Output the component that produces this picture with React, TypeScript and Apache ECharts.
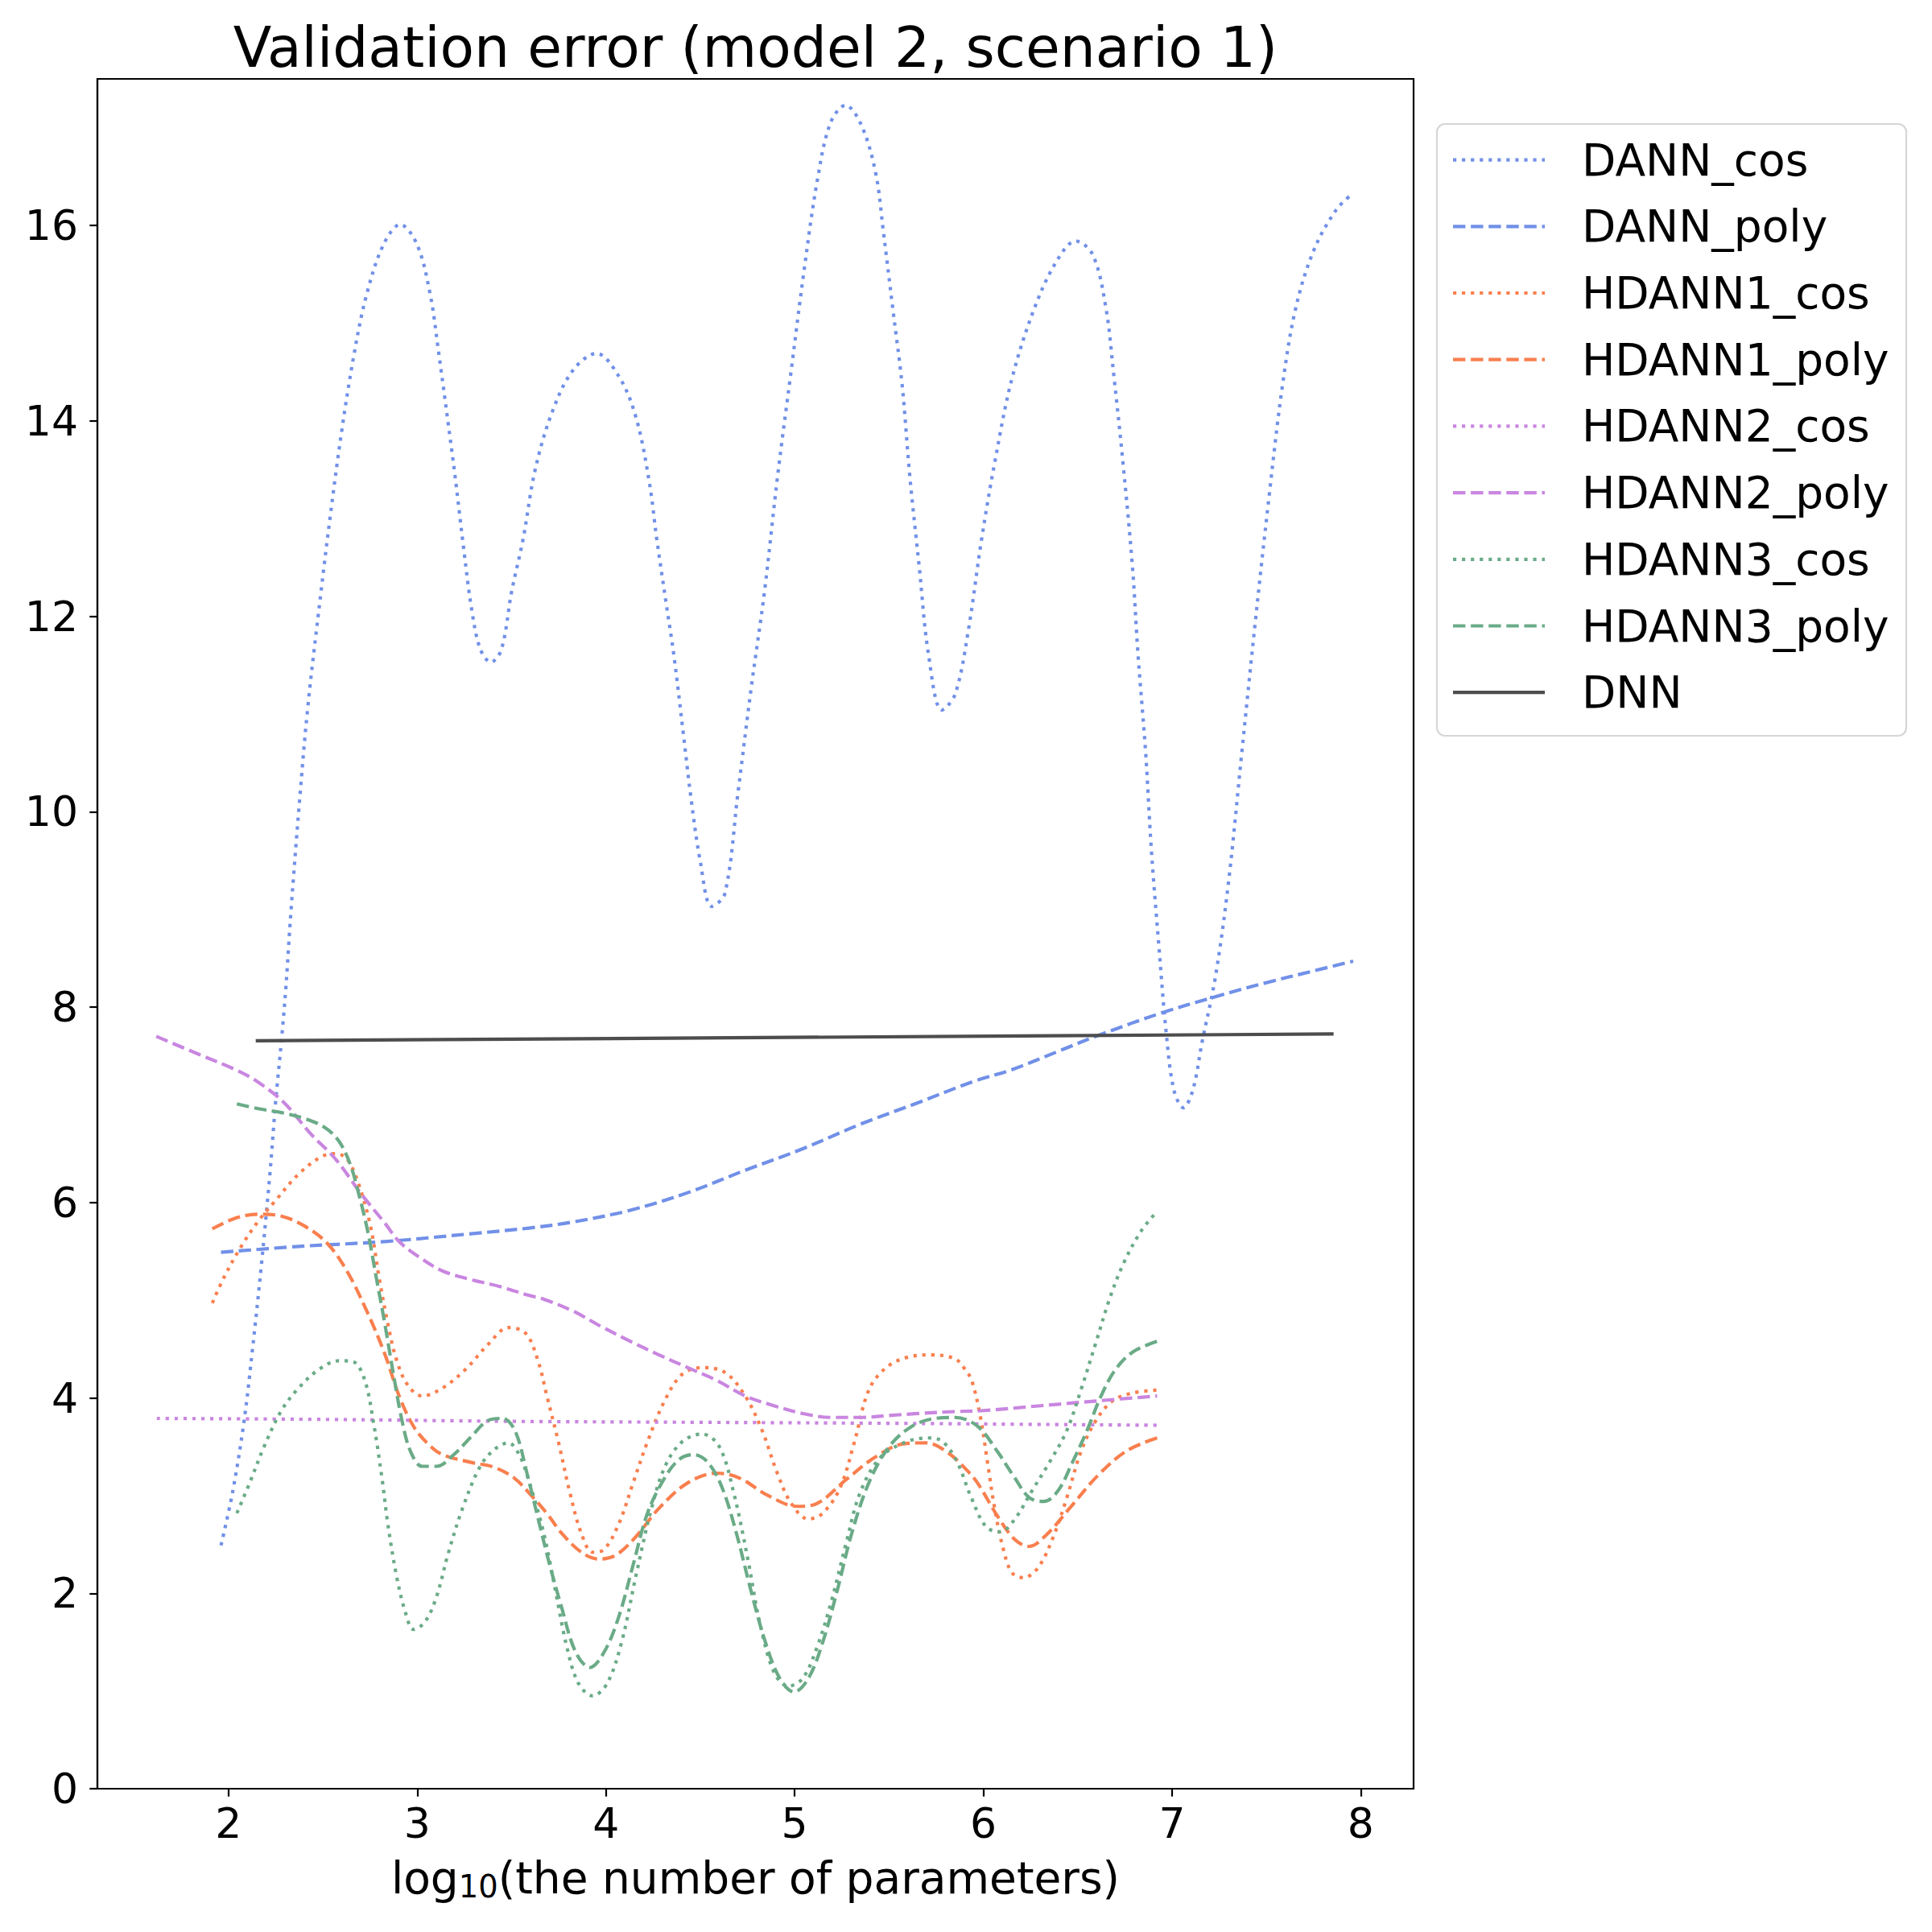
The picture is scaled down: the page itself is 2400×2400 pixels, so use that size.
import React, { useEffect, useRef } from "react";
import * as echarts from "echarts";

const X_TICKS = [2, 3, 4, 5, 6, 7, 8];
const Y_TICKS = [0, 2, 4, 6, 8, 10, 12, 14, 16];

const DANN_COS = [
  [1.96, 2.49], [2.021, 3.03], [2.082, 3.76], [2.127, 4.5], [2.173, 5.34], [2.219, 6.29], [2.249, 7.02],
  [2.28, 7.65], [2.303, 8.18], [2.33, 8.96], [2.375, 10.08], [2.42, 11.07], [2.49, 12.25], [2.54, 13.04],
  [2.6, 13.9], [2.665, 14.68], [2.73, 15.28], [2.82, 15.8], [2.91, 16.01], [3.0, 15.8], [3.07, 15.28],
  [3.11, 14.75], [3.16, 14.03], [3.2, 13.44], [3.245, 12.71], [3.29, 12.05], [3.335, 11.66], [3.39, 11.53],
  [3.446, 11.66], [3.5, 12.25], [3.56, 12.78], [3.625, 13.5], [3.715, 14.09], [3.826, 14.52], [3.95, 14.69],
  [4.07, 14.45], [4.16, 14.03], [4.23, 13.37], [4.27, 12.78], [4.32, 12.12], [4.36, 11.6], [4.41, 10.8],
  [4.45, 10.15], [4.5, 9.49], [4.56, 9.03], [4.63, 9.16], [4.7, 10.2], [4.77, 11.27], [4.84, 12.25],
  [4.91, 13.44], [4.98, 14.49], [5.05, 15.54], [5.12, 16.46], [5.19, 17.05], [5.27, 17.23], [5.355, 17.02],
  [5.43, 16.53], [5.47, 15.94], [5.52, 15.15], [5.57, 14.36], [5.61, 13.44], [5.66, 12.51], [5.71, 11.6],
  [5.78, 11.04], [5.85, 11.2], [5.92, 11.85], [5.99, 12.78], [6.06, 13.57], [6.15, 14.42], [6.27, 15.15],
  [6.39, 15.64], [6.49, 15.84], [6.58, 15.7], [6.65, 15.15], [6.69, 14.49], [6.74, 13.57], [6.79, 12.51],
  [6.82, 11.6], [6.86, 10.61], [6.89, 9.62], [6.93, 8.63], [6.97, 7.72], [7.01, 7.15], [7.06, 6.97],
  [7.11, 7.15], [7.16, 7.65], [7.23, 8.31], [7.3, 9.29], [7.37, 10.61], [7.44, 11.92], [7.515, 13.24],
  [7.585, 14.36], [7.655, 15.15], [7.75, 15.74], [7.87, 16.16], [7.96, 16.33],
];

const DANN_POLY = [
  [1.96, 5.49], [2.371, 5.55], [2.828, 5.6], [3.285, 5.68], [3.6, 5.74], [3.824, 5.8], [4.128, 5.92],
  [4.433, 6.1], [4.738, 6.33], [5.043, 6.55], [5.347, 6.8], [5.652, 7.02], [5.95, 7.24], [6.152, 7.36],
  [6.4, 7.55], [6.609, 7.71], [6.944, 7.94], [7.218, 8.1], [7.5, 8.25], [7.75, 8.37], [7.96, 8.47],
];

const HDANN1_COS = [
  [1.914, 4.97], [1.975, 5.23], [2.067, 5.55], [2.158, 5.81], [2.249, 6.02], [2.371, 6.29], [2.493, 6.47],
  [2.569, 6.5], [2.63, 6.44], [2.691, 6.18], [2.752, 5.76], [2.798, 5.23], [2.844, 4.76], [2.89, 4.39],
  [2.95, 4.13], [3.026, 4.02], [3.133, 4.1], [3.255, 4.29], [3.377, 4.55], [3.483, 4.72], [3.575, 4.66],
  [3.64, 4.38], [3.687, 4.02], [3.748, 3.55], [3.809, 3.03], [3.87, 2.61], [3.93, 2.42], [3.991, 2.45],
  [4.068, 2.71], [4.144, 3.13], [4.22, 3.55], [4.311, 3.97], [4.403, 4.24], [4.509, 4.31], [4.631, 4.26],
  [4.738, 4.02], [4.829, 3.66], [4.906, 3.24], [4.982, 2.92], [5.073, 2.76], [5.149, 2.82], [5.241, 3.08],
  [5.317, 3.55], [5.393, 4.08], [5.485, 4.31], [5.606, 4.42], [5.728, 4.44], [5.85, 4.4], [5.9, 4.3],
  [5.938, 4.18], [5.984, 3.81], [6.022, 3.34], [6.06, 2.87], [6.106, 2.45], [6.152, 2.21], [6.213, 2.16],
  [6.289, 2.26], [6.365, 2.55], [6.441, 2.97], [6.517, 3.45], [6.594, 3.76], [6.685, 3.97], [6.792, 4.05],
  [6.921, 4.08],
];

const HDANN1_POLY = [
  [1.914, 5.73], [2.036, 5.84], [2.158, 5.88], [2.28, 5.86], [2.402, 5.76], [2.524, 5.58], [2.63, 5.29],
  [2.737, 4.87], [2.828, 4.45], [2.904, 4.02], [2.98, 3.71], [3.057, 3.53], [3.133, 3.42], [3.285, 3.34],
  [3.407, 3.29], [3.514, 3.18], [3.605, 3.0], [3.694, 2.8], [3.763, 2.62], [3.87, 2.42], [3.961, 2.35],
  [4.052, 2.39], [4.159, 2.58], [4.281, 2.87], [4.433, 3.13], [4.586, 3.23], [4.707, 3.18], [4.86, 3.0],
  [5.013, 2.89], [5.119, 2.92], [5.271, 3.16], [5.424, 3.39], [5.576, 3.53], [5.698, 3.54], [5.805, 3.45],
  [5.908, 3.27], [5.969, 3.13], [6.075, 2.79], [6.167, 2.55], [6.243, 2.48], [6.335, 2.6], [6.457, 2.87],
  [6.609, 3.21], [6.761, 3.46], [6.921, 3.59],
];

const HDANN2_COS = [
  [1.62, 3.79], [2.5, 3.78], [3.5, 3.76], [4.5, 3.75], [5.5, 3.74], [6.2, 3.73], [6.93, 3.72],
];

const HDANN2_POLY = [
  [1.617, 7.7], [1.838, 7.52], [2.036, 7.36], [2.158, 7.23], [2.295, 7.02], [2.432, 6.71], [2.569, 6.44],
  [2.706, 6.08], [2.828, 5.79], [2.904, 5.6], [3.011, 5.44], [3.133, 5.3], [3.285, 5.21], [3.438, 5.14],
  [3.59, 5.05], [3.671, 5.01], [3.824, 4.89], [3.976, 4.73], [4.128, 4.58], [4.281, 4.44], [4.433, 4.31],
  [4.586, 4.18], [4.738, 4.02], [4.89, 3.92], [5.043, 3.84], [5.195, 3.8], [5.347, 3.8], [5.5, 3.82],
  [5.652, 3.84], [5.85, 3.86], [6.0, 3.87], [6.304, 3.92], [6.609, 3.97], [6.921, 4.02],
];

const HDANN3_COS = [
  [2.044, 2.82], [2.112, 3.13], [2.188, 3.5], [2.28, 3.87], [2.371, 4.1], [2.478, 4.29], [2.584, 4.38],
  [2.661, 4.37], [2.722, 4.18], [2.767, 3.76], [2.813, 3.18], [2.844, 2.71], [2.89, 2.18], [2.935, 1.82],
  [2.981, 1.63], [3.042, 1.71], [3.103, 1.97], [3.163, 2.4], [3.24, 2.87], [3.331, 3.29], [3.407, 3.47],
  [3.483, 3.54], [3.54, 3.42], [3.595, 3.13], [3.671, 2.61], [3.732, 2.03], [3.793, 1.45], [3.854, 1.08],
  [3.93, 0.95], [4.007, 1.08], [4.083, 1.5], [4.159, 2.18], [4.235, 2.82], [4.311, 3.29], [4.403, 3.55],
  [4.509, 3.63], [4.601, 3.5], [4.677, 3.03], [4.753, 2.34], [4.814, 1.71], [4.891, 1.19], [4.967, 1.05],
  [5.043, 1.13], [5.119, 1.45], [5.195, 1.92], [5.271, 2.5], [5.347, 3.03], [5.454, 3.39], [5.591, 3.55],
  [5.713, 3.59], [5.786, 3.55], [5.862, 3.34], [5.938, 2.97], [6.015, 2.68], [6.091, 2.63], [6.167, 2.76],
  [6.258, 3.05], [6.35, 3.34], [6.441, 3.66], [6.517, 4.08], [6.594, 4.55], [6.67, 5.02], [6.746, 5.39],
  [6.837, 5.71], [6.921, 5.91],
];

const HDANN3_POLY = [
  [2.044, 7.01], [2.158, 6.96], [2.28, 6.92], [2.402, 6.86], [2.508, 6.77], [2.584, 6.63], [2.645, 6.39],
  [2.691, 6.08], [2.737, 5.71], [2.783, 5.23], [2.828, 4.76], [2.874, 4.24], [2.92, 3.76], [2.965, 3.45],
  [3.026, 3.3], [3.103, 3.3], [3.194, 3.42], [3.285, 3.6], [3.377, 3.77], [3.453, 3.79], [3.519, 3.66],
  [3.58, 3.24], [3.641, 2.76], [3.702, 2.29], [3.763, 1.87], [3.839, 1.4], [3.915, 1.24], [3.991, 1.4],
  [4.068, 1.76], [4.144, 2.29], [4.22, 2.82], [4.311, 3.18], [4.388, 3.37], [4.464, 3.42], [4.54, 3.34],
  [4.616, 3.08], [4.692, 2.61], [4.768, 2.03], [4.845, 1.5], [4.921, 1.13], [4.997, 0.99], [5.073, 1.13],
  [5.149, 1.5], [5.226, 2.03], [5.302, 2.61], [5.393, 3.13], [5.5, 3.5], [5.622, 3.71], [5.744, 3.79],
  [5.85, 3.8], [5.969, 3.71], [6.075, 3.45], [6.167, 3.18], [6.243, 2.98], [6.32, 2.94], [6.396, 3.05],
  [6.472, 3.34], [6.548, 3.66], [6.624, 4.02], [6.7, 4.29], [6.792, 4.47], [6.921, 4.58],
];

const DNN = [[2.144, 7.655], [7.856, 7.725]];

const BLUE = "#7190e8";
const ORANGE = "#f97f4e";
const PURPLE = "#c986e0";
const GREEN = "#6aab87";
const GREY = "#4d4d4d";

const LW = 4.17;
const DOTTED = [4.17, 6.88];
const DASHED = [15.4, 6.7];

const SERIES_DEFS = [
  { name: "DANN_cos", data: DANN_COS, color: BLUE, dash: DOTTED },
  { name: "DANN_poly", data: DANN_POLY, color: BLUE, dash: DASHED },
  { name: "HDANN1_cos", data: HDANN1_COS, color: ORANGE, dash: DOTTED },
  { name: "HDANN1_poly", data: HDANN1_POLY, color: ORANGE, dash: DASHED },
  { name: "HDANN2_cos", data: HDANN2_COS, color: PURPLE, dash: DOTTED },
  { name: "HDANN2_poly", data: HDANN2_POLY, color: PURPLE, dash: DASHED },
  { name: "HDANN3_cos", data: HDANN3_COS, color: GREEN, dash: DOTTED },
  { name: "HDANN3_poly", data: HDANN3_POLY, color: GREEN, dash: DASHED },
  { name: "DNN", data: DNN, color: GREY, dash: null as number[] | null },
];

const FONT = "DejaVu Sans";

export default function App() {
  const ref = useRef<HTMLDivElement>(null);
  useEffect(() => {
    if (!ref.current) return;
    const chart = echarts.init(ref.current, null, { renderer: "svg", width: 2400, height: 2400 });

    const gridLeft = 121;
    const gridTop = 98;
    const gridW = 1635;
    const gridH = 2124;
    const cx = gridLeft + gridW / 2;

    const legendEls: any[] = [
      {
        type: "rect",
        shape: { x: 1785, y: 154, width: 583, height: 760, r: 10 },
        style: { fill: "rgba(255,255,255,0.8)", stroke: "#d6d6d6", lineWidth: 2.2 },
        z: 10,
      },
    ];
    SERIES_DEFS.forEach((s, i) => {
      const y = 198.6 + i * 82.7;
      legendEls.push({
        type: "line",
        shape: { x1: 1805, y1: y, x2: 1919, y2: y },
        style: { stroke: s.color, lineWidth: LW, lineDash: s.dash || null, lineCap: "butt" },
        z: 11,
      });
      legendEls.push({
        type: "text",
        x: 1965,
        y: y,
        style: {
          text: s.name,
          fontSize: 55,
          fontFamily: FONT,
          fill: "#000",
          align: "left",
          verticalAlign: "middle",
          textAlign: "left",
          textVerticalAlign: "middle",
        },
        z: 11,
      });
    });

    const option: any = {
      animation: false,
      backgroundColor: "#ffffff",
      grid: {
        left: gridLeft,
        top: gridTop,
        width: gridW,
        height: gridH,
        show: true,
        borderColor: "#000",
        borderWidth: 2.2,
        backgroundColor: "transparent",
      },
      xAxis: {
        type: "value",
        min: 1.305,
        max: 8.28,
        splitLine: { show: false },
        axisLine: { show: true, lineStyle: { color: "#000", width: 2.2 } },
        axisTick: { show: true, inside: false, length: 9.7, lineStyle: { color: "#000", width: 2.2 }, customValues: X_TICKS },
        axisLabel: {
          customValues: X_TICKS,
          fontSize: 52,
          fontFamily: FONT,
          color: "#000",
          margin: 17,
          formatter: (v: number) => String(v),
        },
      },
      yAxis: {
        type: "value",
        min: 0,
        max: 17.5,
        splitLine: { show: false },
        axisLine: { show: true, lineStyle: { color: "#000", width: 2.2 } },
        axisTick: { show: true, inside: false, length: 9.7, lineStyle: { color: "#000", width: 2.2 }, customValues: Y_TICKS },
        axisLabel: {
          customValues: Y_TICKS,
          fontSize: 52,
          fontFamily: FONT,
          color: "#000",
          margin: 24,
          formatter: (v: number) => String(v),
        },
      },
      series: SERIES_DEFS.map((s) => ({
        name: s.name,
        type: "line",
        data: s.data,
        showSymbol: false,
        symbol: "none",
        smooth: s.name === "DNN" ? false : 0.35,
        lineStyle: { color: s.color, width: LW, type: s.dash || "solid", cap: "butt", join: "round" },
        itemStyle: { color: s.color },
        emphasis: { disabled: true },
        silent: true,
      })),
      graphic: [
        {
          type: "text",
          x: cx,
          y: 58,
          style: {
            text: "Validation error (model 2, scenario 1)",
            fontSize: 69.5,
            fontFamily: FONT,
            fill: "#000",
            align: "center",
            verticalAlign: "middle",
            textAlign: "center",
            textVerticalAlign: "middle",
          },
        },
        {
          type: "text",
          x: cx,
          y: 2333,
          style: {
            text: "{a|log}{b|10}{a|(the number of parameters)}",
            fontFamily: FONT,
            fontSize: 55,
            fill: "#000",
            align: "center",
            verticalAlign: "middle",
            textAlign: "center",
            textVerticalAlign: "middle",
            rich: {
              a: { fontSize: 55, fontFamily: FONT, lineHeight: 60, fill: "#000", color: "#000" },
              b: { fontSize: 38.5, fontFamily: FONT, lineHeight: 32, verticalAlign: "bottom", fill: "#000", color: "#000" },
            },
          },
        },
        ...legendEls,
      ],
    };
    chart.setOption(option);
    return () => chart.dispose();
  }, []);
  return (
    <div
      ref={ref}
      style={{ position: "absolute", left: 0, top: 0, width: 2400, height: 2400, background: "#fff" }}
    />
  );
}
